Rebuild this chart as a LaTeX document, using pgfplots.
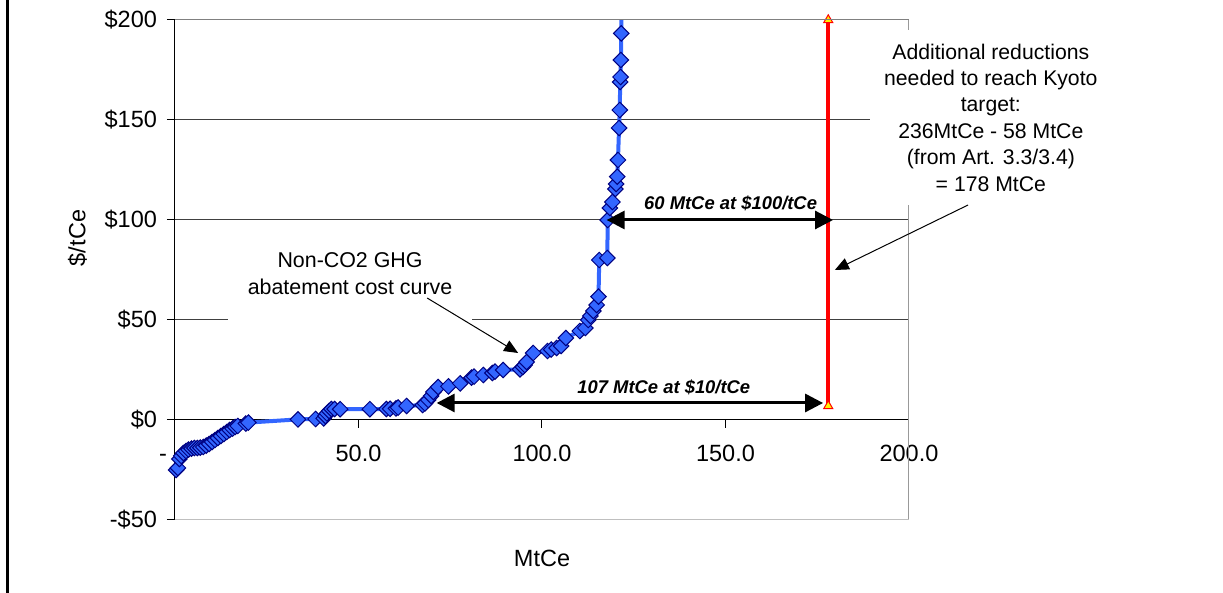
\documentclass[border=0pt]{standalone}
\usepackage{fontspec}
\setmainfont{Liberation Sans}
\usepackage{pgfplots}
\pgfplotsset{compat=1.18}
\usetikzlibrary{arrows.meta}
\definecolor{curveblue}{RGB}{51,102,255}
\definecolor{navyedge}{RGB}{0,0,128}
\begin{document}
\begin{tikzpicture}
\path[use as bounding box] (0,0) rectangle (611.5pt,296.5pt);
\draw[line width=1.5pt] (3.6pt,0) -- (3.6pt,296.5pt);
\begin{axis}[
  at={(87.5pt,36.5pt)}, anchor=south west,
  scale only axis, width=367pt, height=250pt,
  xmin=0, xmax=200, ymin=-50, ymax=200,
  axis x line*=middle, axis y line*=left,
  hide obscured x ticks=false, hide obscured y ticks=false,
  xtick={0,50,100,150,200},
  xticklabels={\makebox[0pt][r]{\vphantom{0}-\kern4pt},50.0,100.0,150.0,200.0},
  ytick={-50,0,50,100,150,200},
  yticklabels={-\$50,\$0,\$50,\$100,\$150,\$200},
  ymajorgrids, grid style={black!75, line width=0.5pt},
  tick align=outside, major tick length=4pt,
  tick style={black, line width=0.5pt},
  axis line style={black, line width=0.5pt},
  clip mode=individual,
  tick label style={font=\fontsize{11.75}{14}\selectfont},
  xticklabel style={yshift=-5pt},
  yticklabel style={xshift=-1.5pt},
  xlabel={MtCe}, ylabel={\$/tCe},
  every axis x label/.style={at={(rel axis cs:0.5,-0.0768)}, anchor=center, font=\fontsize{11.75}{14}\selectfont},
  every axis y label/.style={at={(rel axis cs:-0.1328,0.564)}, rotate=90, anchor=center, font=\fontsize{11.75}{14}\selectfont},
]
\addplot[color=curveblue, line width=2pt, mark=square*, mark size=2.75pt,
  mark options={rotate=45, fill=curveblue, draw=navyedge, line width=0.5pt, solid}] table {
x y
0.3 -25
0.8 -24
1.2 -19.5
1.7 -18
2.3 -16.5
3.0 -15.5
3.7 -14.8
4.5 -14.3
5.3 -14
6.1 -14
6.9 -13.8
7.7 -13.5
8.5 -12.8
9.3 -12
10.1 -11
10.9 -10
11.7 -9
12.5 -8
13.3 -7
14.1 -6
14.9 -5
15.7 -4.3
16.4 -3.5
17.1 -3
19.3 -1.8
20.0 -1.3
33.5 0.3
38.3 0.5
40.5 0.8
41.0 2
41.4 3.3
42.0 4.5
42.6 5.5
43.5 5.5
45.0 5.4
53.1 5.4
57.6 5.5
58.6 5.6
60.2 5.8
60.8 6.2
63.1 7.0
67.5 7.5
68.1 8.3
69.0 10
69.8 12
70.4 14
71.7 16.5
74.5 16.8
77.7 18.3
80.8 21.2
81.5 21.7
84.0 22.5
86.5 23.5
87.2 24.2
89.4 25.0
94.0 25.3
94.8 26.5
95.3 27.5
95.8 29
97.6 33.5
101.5 34.5
102.5 35.2
104.0 36
105.2 37
106.5 41
110.3 44.5
111.8 46
112.6 50
113.2 52
114.0 54.5
114.9 57.5
115.4 61.7
115.6 80
117.8 81
117.9 100
118.5 106
119.2 109
120.0 115.5
120.2 118
120.5 121.7
120.7 130
121.0 146
121.2 155
121.3 169
121.4 171.5
121.5 180
121.6 193.3
121.8 220
};
\addplot[color=red, line width=2pt, mark=triangle*, mark size=2.6pt,
  mark options={fill=yellow, draw=red, line width=0.5pt}] coordinates {(178,7) (178,200)};
\draw[black!50, line width=0.5pt] (rel axis cs:0,1) -- (rel axis cs:1,1);
\draw[black!40, line width=0.5pt] (rel axis cs:1,1) -- (rel axis cs:1,0);
\draw[black!25, line width=0.5pt] (rel axis cs:0,0) -- (rel axis cs:1,0);
\node[fill=white, minimum width=122pt, minimum height=50pt, align=center, inner sep=0pt,
  font=\fontsize{10.7}{13.5}\selectfont] at (axis cs:47.7,73) {Non-CO2 GHG\\abatement cost curve};
\node[fill=white, minimum width=121pt, minimum height=87.5pt, align=center, inner sep=0pt,
  font=\fontsize{10.6}{13.2}\selectfont] at (axis cs:222.3,151.25)
  {Additional reductions\\needed to reach Kyoto\\target:\\236MtCe - 58 MtCe\\(from Art. 3.3/3.4)\\= 178 MtCe};
\draw[line width=1.5pt, {Triangle[length=9pt,width=9pt]}-{Triangle[length=9pt,width=9pt]}] (axis cs:117.6,100) -- (axis cs:179.3,100);
\draw[line width=1.5pt, {Triangle[length=9pt,width=9pt]}-{Triangle[length=9pt,width=9pt]}] (axis cs:71.3,8.5) -- (axis cs:176.6,8.5);
\node[font=\fontsize{9.2}{11}\selectfont\bfseries\itshape] at (axis cs:151.4,108.3) {60 MtCe at \$100/tCe};
\node[font=\fontsize{9.2}{11}\selectfont\bfseries\itshape] at (axis cs:133.2,16.3) {107 MtCe at \$10/tCe};
\draw[line width=0.5pt, -{Triangle[length=7pt,width=6pt]}] (axis cs:68.7,61) -- (axis cs:93.5,33.5);
\draw[line width=0.5pt, -{Triangle[length=7pt,width=6pt]}] (axis cs:216.1,107.5) -- (axis cs:179.8,75);
\end{axis}
\end{tikzpicture}
\end{document}
